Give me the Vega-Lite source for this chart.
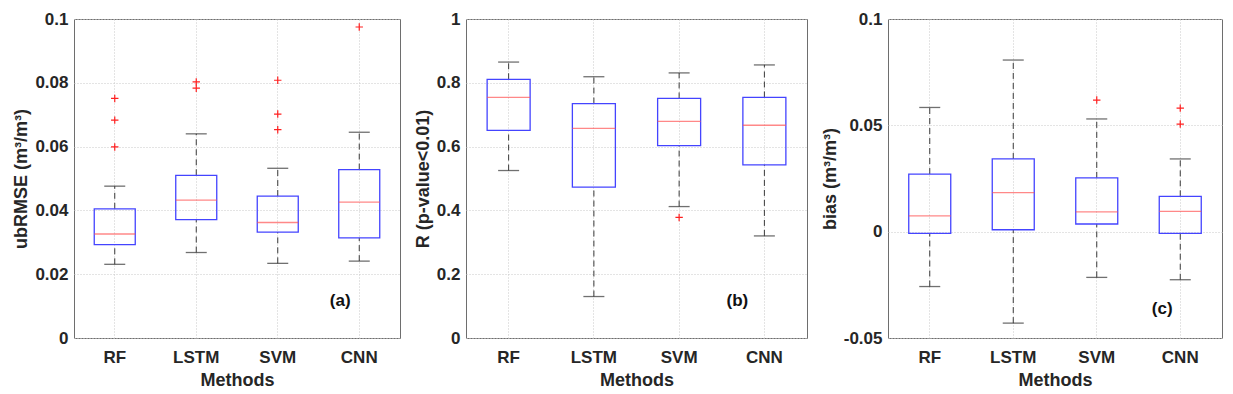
{
  "$schema": "https://vega.github.io/schema/vega-lite/v6.json",
  "background": "white",
  "padding": {"left": 12, "top": 9, "right": 5, "bottom": 5},
  "config": {
    "font": "Liberation Sans",
    "view": {"stroke": "#6e6e6e", "strokeWidth": 1},
    "axis": {
      "labelFont": "Liberation Sans", "labelFontWeight": "bold", "labelFontSize": 17, "labelColor": "#262626",
      "titleFont": "Liberation Sans", "titleFontWeight": "bold", "titleFontSize": 18, "titleColor": "#262626",
      "grid": true, "gridColor": "#c8c8c8", "gridDash": [1, 2], "gridWidth": 1,
      "tickSize": 0, "domain": false
    },
    "axisX": {"labelAngle": 0, "labelPadding": 11, "titlePadding": 6, "bandPosition": 0.5},
    "axisY": {"labelPadding": 6, "titlePadding": 4}
  },
  "datasets": {
    "ubrmse": [
      {"Method": "RF", "lo": 0.0231, "q1": 0.0293, "med": 0.0326, "q3": 0.0405, "hi": 0.0476},
      {"Method": "LSTM", "lo": 0.0268, "q1": 0.0371, "med": 0.0432, "q3": 0.0510, "hi": 0.0640},
      {"Method": "SVM", "lo": 0.0234, "q1": 0.0332, "med": 0.0362, "q3": 0.0445, "hi": 0.0532},
      {"Method": "CNN", "lo": 0.0241, "q1": 0.0314, "med": 0.0426, "q3": 0.0528, "hi": 0.0645}
    ],
    "ubrmse_out": [
      {"Method": "RF", "v": 0.0751}, {"Method": "RF", "v": 0.0683}, {"Method": "RF", "v": 0.0599},
      {"Method": "LSTM", "v": 0.0803}, {"Method": "LSTM", "v": 0.0783},
      {"Method": "SVM", "v": 0.0808}, {"Method": "SVM", "v": 0.0702}, {"Method": "SVM", "v": 0.0653},
      {"Method": "CNN", "v": 0.0975}
    ],
    "r": [
      {"Method": "RF", "lo": 0.525, "q1": 0.651, "med": 0.754, "q3": 0.811, "hi": 0.865},
      {"Method": "LSTM", "lo": 0.130, "q1": 0.473, "med": 0.657, "q3": 0.735, "hi": 0.819},
      {"Method": "SVM", "lo": 0.412, "q1": 0.603, "med": 0.679, "q3": 0.751, "hi": 0.831},
      {"Method": "CNN", "lo": 0.320, "q1": 0.543, "med": 0.667, "q3": 0.754, "hi": 0.856}
    ],
    "r_out": [
      {"Method": "SVM", "v": 0.378}
    ],
    "bias": [
      {"Method": "RF", "lo": -0.0258, "q1": -0.0008, "med": 0.0074, "q3": 0.0271, "hi": 0.0584},
      {"Method": "LSTM", "lo": -0.0430, "q1": 0.0009, "med": 0.0184, "q3": 0.0342, "hi": 0.0807},
      {"Method": "SVM", "lo": -0.0215, "q1": 0.0036, "med": 0.0093, "q3": 0.0253, "hi": 0.0530},
      {"Method": "CNN", "lo": -0.0226, "q1": -0.0008, "med": 0.0095, "q3": 0.0166, "hi": 0.0342}
    ],
    "bias_out": [
      {"Method": "SVM", "v": 0.0619},
      {"Method": "CNN", "v": 0.0581}, {"Method": "CNN", "v": 0.0506}
    ],
    "labels": [
      {"panel": "a", "Method": "CNN", "y": 0.0116, "text": "(a)"},
      {"panel": "b", "Method": "CNN", "y": 0.115, "text": "(b)"},
      {"panel": "c", "Method": "CNN", "y": -0.0362, "text": "(c)"}
    ]
  },
  "hconcat": [
    {
      "width": 326, "height": 319,
      "encoding": {
        "x": {"field": "Method", "type": "nominal", "title": "Methods",
              "scale": {"type": "band", "domain": ["RF", "LSTM", "SVM", "CNN"], "paddingInner": 0, "paddingOuter": 0}}
      },
      "layer": [
        {"data": {"name": "ubrmse"}, "mark": {"type": "rule", "color": "#3a3a3a", "strokeDash": [6, 4], "strokeWidth": 1},
         "encoding": {"y": {"field": "q3", "type": "quantitative", "title": "ubRMSE (m³/m³)",
           "scale": {"domain": [0, 0.1], "nice": false}, "axis": {"values": [0, 0.02, 0.04, 0.06, 0.08, 0.1], "format": "~g"}}, "y2": {"field": "hi"}}},
        {"data": {"name": "ubrmse"}, "mark": {"type": "rule", "color": "#3a3a3a", "strokeDash": [6, 4], "strokeWidth": 1},
         "encoding": {"y": {"field": "lo", "type": "quantitative"}, "y2": {"field": "q1"}}},
        {"data": {"name": "ubrmse"}, "mark": {"type": "tick", "color": "#333333", "size": 21, "thickness": 1.3},
         "encoding": {"y": {"field": "hi", "type": "quantitative"}}},
        {"data": {"name": "ubrmse"}, "mark": {"type": "tick", "color": "#333333", "size": 21, "thickness": 1.3},
         "encoding": {"y": {"field": "lo", "type": "quantitative"}}},
        {"data": {"name": "ubrmse"}, "mark": {"type": "bar", "fill": null, "fillOpacity": 0, "stroke": "#4444ff", "strokeWidth": 1.3, "size": 41},
         "encoding": {"y": {"field": "q1", "type": "quantitative"}, "y2": {"field": "q3"}}},
        {"data": {"name": "ubrmse"}, "mark": {"type": "tick", "color": "#ff5555", "size": 41, "thickness": 1.3},
         "encoding": {"y": {"field": "med", "type": "quantitative"}}},
        {"data": {"name": "ubrmse_out"}, "mark": {"type": "point", "shape": "M-1,0H1M0,-1V1", "filled": false, "stroke": "#ff2020", "strokeWidth": 1.2, "size": 55, "opacity": 1},
         "encoding": {"y": {"field": "v", "type": "quantitative"}}},
        {"data": {"name": "labels"}, "transform": [{"filter": "datum.panel == 'a'"}],
         "mark": {"type": "text", "font": "Liberation Sans", "fontWeight": "bold", "fontSize": 17, "dx": -19, "color": "#111"},
         "encoding": {"y": {"field": "y", "type": "quantitative"}, "text": {"field": "text"}}}
      ]
    },
    {
      "width": 341, "height": 319,
      "encoding": {
        "x": {"field": "Method", "type": "nominal", "title": "Methods",
              "scale": {"type": "band", "domain": ["RF", "LSTM", "SVM", "CNN"], "paddingInner": 0, "paddingOuter": 0}}
      },
      "layer": [
        {"data": {"name": "r"}, "mark": {"type": "rule", "color": "#3a3a3a", "strokeDash": [6, 4], "strokeWidth": 1},
         "encoding": {"y": {"field": "q3", "type": "quantitative", "title": "R (p-value<0.01)",
           "scale": {"domain": [0, 1], "nice": false}, "axis": {"values": [0, 0.2, 0.4, 0.6, 0.8, 1], "format": "~g"}}, "y2": {"field": "hi"}}},
        {"data": {"name": "r"}, "mark": {"type": "rule", "color": "#3a3a3a", "strokeDash": [6, 4], "strokeWidth": 1},
         "encoding": {"y": {"field": "lo", "type": "quantitative"}, "y2": {"field": "q1"}}},
        {"data": {"name": "r"}, "mark": {"type": "tick", "color": "#333333", "size": 21, "thickness": 1.3},
         "encoding": {"y": {"field": "hi", "type": "quantitative"}}},
        {"data": {"name": "r"}, "mark": {"type": "tick", "color": "#333333", "size": 21, "thickness": 1.3},
         "encoding": {"y": {"field": "lo", "type": "quantitative"}}},
        {"data": {"name": "r"}, "mark": {"type": "bar", "fill": null, "fillOpacity": 0, "stroke": "#4444ff", "strokeWidth": 1.3, "size": 43},
         "encoding": {"y": {"field": "q1", "type": "quantitative"}, "y2": {"field": "q3"}}},
        {"data": {"name": "r"}, "mark": {"type": "tick", "color": "#ff5555", "size": 43, "thickness": 1.3},
         "encoding": {"y": {"field": "med", "type": "quantitative"}}},
        {"data": {"name": "r_out"}, "mark": {"type": "point", "shape": "M-1,0H1M0,-1V1", "filled": false, "stroke": "#ff2020", "strokeWidth": 1.2, "size": 55, "opacity": 1},
         "encoding": {"y": {"field": "v", "type": "quantitative"}}},
        {"data": {"name": "labels"}, "transform": [{"filter": "datum.panel == 'b'"}],
         "mark": {"type": "text", "font": "Liberation Sans", "fontWeight": "bold", "fontSize": 17, "dx": -27, "color": "#111"},
         "encoding": {"y": {"field": "y", "type": "quantitative"}, "text": {"field": "text"}}}
      ]
    },
    {
      "width": 334, "height": 319,
      "encoding": {
        "x": {"field": "Method", "type": "nominal", "title": "Methods",
              "scale": {"type": "band", "domain": ["RF", "LSTM", "SVM", "CNN"], "paddingInner": 0, "paddingOuter": 0}}
      },
      "layer": [
        {"data": {"name": "bias"}, "mark": {"type": "rule", "color": "#3a3a3a", "strokeDash": [6, 4], "strokeWidth": 1},
         "encoding": {"y": {"field": "q3", "type": "quantitative", "title": "bias (m³/m³)",
           "scale": {"domain": [-0.05, 0.1], "nice": false, "zero": false},
           "axis": {"values": [-0.05, 0, 0.05, 0.1], "format": "~g", "labelExpr": "replace(datum.label, '−', '-')"}}, "y2": {"field": "hi"}}},
        {"data": {"name": "bias"}, "mark": {"type": "rule", "color": "#3a3a3a", "strokeDash": [6, 4], "strokeWidth": 1},
         "encoding": {"y": {"field": "lo", "type": "quantitative"}, "y2": {"field": "q1"}}},
        {"data": {"name": "bias"}, "mark": {"type": "tick", "color": "#333333", "size": 21, "thickness": 1.3},
         "encoding": {"y": {"field": "hi", "type": "quantitative"}}},
        {"data": {"name": "bias"}, "mark": {"type": "tick", "color": "#333333", "size": 21, "thickness": 1.3},
         "encoding": {"y": {"field": "lo", "type": "quantitative"}}},
        {"data": {"name": "bias"}, "mark": {"type": "bar", "fill": null, "fillOpacity": 0, "stroke": "#4444ff", "strokeWidth": 1.3, "size": 42},
         "encoding": {"y": {"field": "q1", "type": "quantitative"}, "y2": {"field": "q3"}}},
        {"data": {"name": "bias"}, "mark": {"type": "tick", "color": "#ff5555", "size": 42, "thickness": 1.3},
         "encoding": {"y": {"field": "med", "type": "quantitative"}}},
        {"data": {"name": "bias_out"}, "mark": {"type": "point", "shape": "M-1,0H1M0,-1V1", "filled": false, "stroke": "#ff2020", "strokeWidth": 1.2, "size": 55, "opacity": 1},
         "encoding": {"y": {"field": "v", "type": "quantitative"}}},
        {"data": {"name": "labels"}, "transform": [{"filter": "datum.panel == 'c'"}],
         "mark": {"type": "text", "font": "Liberation Sans", "fontWeight": "bold", "fontSize": 17, "dx": -18, "color": "#111"},
         "encoding": {"y": {"field": "y", "type": "quantitative"}, "text": {"field": "text"}}}
      ]
    }
  ],
  "spacing": 12,
  "bounds": "full"
}
